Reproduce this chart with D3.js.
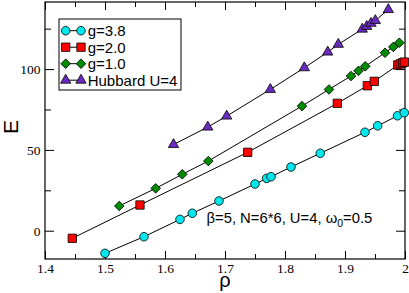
<!DOCTYPE html>
<meta charset="utf-8">
<script src="https://d3js.org/d3.v7.min.js"></script>
<style>
  body { margin: 0; background: #fff; }
  .tick text { font-family: "Liberation Serif", "Times New Roman", serif; font-size: 13.5px; fill: #000; }
</style>
<body>
<div id="chart"></div>
<script>
// data: density rho vs energy E
var rhoG38 = [1.500, 1.565, 1.625, 1.6455, 1.690, 1.750, 1.7695, 1.7767, 1.810, 1.8588, 1.9333, 1.9545, 1.9875, 1.9988];
var eG38   = [-14.0, -3.7, 7.0, 10.8, 18.4, 28.9, 32.4, 33.4, 39.4, 47.9, 60.9, 64.9, 71.1, 73.0];

var rhoG20 = [1.4455, 1.5583, 1.7378, 1.8872, 1.9372, 1.9488, 1.988, 1.992, 1.996, 1.999];
var eG20   = [-4.7, 15.9, 48.5, 78.8, 89.7, 92.4, 102.5, 103.2, 103.9, 104.3];

var rhoG10 = [1.5238, 1.5845, 1.6288, 1.6722, 1.8283, 1.8733, 1.910, 1.9225, 1.9337, 1.9667, 1.9805, 1.9905];
var eG10   = [15.3, 26.2, 34.9, 43.1, 77.1, 87.4, 95.7, 98.9, 101.7, 110.1, 113.7, 116.3];

var rhoHub = [1.6142, 1.6712, 1.7028, 1.7755, 1.8322, 1.8712, 1.8888, 1.9288, 1.9362, 1.9433, 1.9505, 1.9722];
var eHub   = [53.3, 64.1, 70.9, 87.4, 100.8, 110.5, 115.3, 124.7, 126.4, 128.3, 130.0, 136.8];

var seriesNames = ["g=3.8", "g=2.0", "g=1.0", "Hubbard U=4"];
var xTicks = [1.4, 1.5, 1.6, 1.7, 1.8, 1.9, 2.0];
var xTickLabels = ["1.4", "1.5", "1.6", "1.7", "1.8", "1.9", "2"];
var xMinor = [1.45, 1.55, 1.65, 1.75, 1.85, 1.95];
var yTicks = [0, 50, 100];
var yMinor = [25, 75, 125];

var series = [
  { name: seriesNames[0], rho: rhoG38, e: eG38, color: "#00e8ee", shape: "circle" },
  { name: seriesNames[1], rho: rhoG20, e: eG20, color: "#ff0000", shape: "square" },
  { name: seriesNames[2], rho: rhoG10, e: eG10, color: "#008c00", shape: "diamond" },
  { name: seriesNames[3], rho: rhoHub, e: eHub, color: "#6a2bc0", shape: "triangle" }
];

var margin = {top: 2, right: 4, bottom: 34, left: 45},
    width = 409 - margin.left - margin.right,
    height = 293 - margin.top - margin.bottom;

var svg = d3.select("#chart")
  .append("svg")
    .attr("width", 409)
    .attr("height", 293)
  .append("g")
    .attr("transform", "translate(" + margin.left + "," + margin.top + ")");

var x = d3.scaleLinear().domain([1.4, 2.0]).range([0, width]);
var y = d3.scaleLinear().domain([-17.5, 141.5]).range([height, 0]);

// marker generators
var symbols = {
  circle: d3.symbol().type(d3.symbolCircle).size(58),
  square: d3.symbol().type(d3.symbolSquare).size(70),
  diamond: d3.symbol().type(d3.symbolSquare).size(46),
  triangle: d3.symbol().type(d3.symbolTriangle).size(46)
};
function markerTransform(shape, px, py) {
  var t = "translate(" + px + "," + py + ")";
  if (shape === "diamond") t += " rotate(45)";
  return t;
}

// bottom axis with labels, ticks pointing inward
var xAxis = svg.append("g")
  .attr("transform", "translate(0," + height + ")")
  .call(d3.axisBottom(x).tickValues(xTicks).tickSize(-8)
    .tickFormat(function(d, i) { return xTickLabels[i]; }));
xAxis.selectAll("text").attr("y", 13.5).attr("dy", 0);
svg.append("g")
  .attr("transform", "translate(0," + height + ")")
  .call(d3.axisBottom(x).tickValues(xMinor).tickSize(-5).tickFormat(""));

// top axis
svg.append("g")
  .call(d3.axisTop(x).tickValues(xTicks).tickSize(-8).tickFormat(""));
svg.append("g")
  .call(d3.axisTop(x).tickValues(xMinor).tickSize(-5).tickFormat(""));

// left axis
var yAxis = svg.append("g")
  .call(d3.axisLeft(y).tickValues(yTicks).tickSize(-9).tickFormat(d3.format("d")));
yAxis.selectAll("text").attr("x", -4.5).attr("dy", "0.33em");
svg.append("g")
  .call(d3.axisLeft(y).tickValues(yMinor).tickSize(-6).tickFormat(""));

// right axis
svg.append("g")
  .attr("transform", "translate(" + width + ",0)")
  .call(d3.axisRight(y).tickValues(yTicks).tickSize(-9).tickFormat(""));
svg.append("g")
  .attr("transform", "translate(" + width + ",0)")
  .call(d3.axisRight(y).tickValues(yMinor).tickSize(-6).tickFormat(""));

svg.selectAll(".domain").remove();
svg.selectAll(".tick line").attr("stroke", "#000").attr("stroke-width", 1);

// frame
svg.append("rect")
  .attr("width", width)
  .attr("height", height)
  .attr("fill", "none")
  .attr("stroke", "#000")
  .attr("stroke-width", 1.2);

// series lines and markers
var line = d3.line()
  .x(function(d) { return x(d[0]); })
  .y(function(d) { return y(d[1]); });

series.forEach(function(s) {
  var pts = s.rho.map(function(r, i) { return [r, s.e[i]]; });
  svg.append("path")
    .datum(pts)
    .attr("fill", "none")
    .attr("stroke", "#000")
    .attr("stroke-width", 1)
    .attr("d", line);
  svg.append("g").selectAll("path")
    .data(pts)
    .enter().append("path")
      .attr("d", symbols[s.shape])
      .attr("transform", function(d) { return markerTransform(s.shape, x(d[0]), y(d[1])); })
      .attr("fill", s.color)
      .attr("stroke", "#000")
      .attr("stroke-width", 0.8);
});

// legend
var legend = svg.append("g").attr("transform", "translate(14,17)");
legend.append("rect")
  .attr("width", 122)
  .attr("height", 71)
  .attr("fill", "#fff")
  .attr("stroke", "#000")
  .attr("stroke-width", 1);
series.forEach(function(s, i) {
  var ly = 11.7 + i * 16.5;
  legend.append("line")
    .attr("x1", 6.7).attr("x2", 22)
    .attr("y1", ly).attr("y2", ly)
    .attr("stroke", "#000");
  [6.7, 22].forEach(function(lx) {
    legend.append("path")
      .attr("d", symbols[s.shape])
      .attr("transform", markerTransform(s.shape, lx, ly))
      .attr("fill", s.color)
      .attr("stroke", "#000")
      .attr("stroke-width", 0.8);
  });
  legend.append("text")
    .attr("x", 28.7)
    .attr("y", ly + 5.5)
    .style("font-family", "'Liberation Sans', Arial, sans-serif")
    .style("font-size", "15px")
    .text(s.name);
});

// annotation
var note = svg.append("text")
  .attr("x", 161.5)
  .attr("y", 221.3)
  .style("font-family", "'Liberation Sans', Arial, sans-serif")
  .style("font-size", "14.8px");
note.append("tspan").text("\u03b2=5, N=6*6, U=4, \u03c9");
note.append("tspan").attr("dy", 4).style("font-size", "10.5px").text("0");
note.append("tspan").attr("dy", -4).text("=0.5");

// axis titles
svg.append("text")
  .attr("x", width / 2)
  .attr("y", 285)
  .attr("text-anchor", "middle")
  .style("font-family", "'Liberation Sans', Arial, sans-serif")
  .style("font-size", "20px")
  .text("\u03c1");

svg.append("text")
  .attr("transform", "translate(" + (17.5 - margin.left) + "," + (127 - margin.top) + ") rotate(-90)")
  .attr("text-anchor", "middle")
  .style("font-family", "'Liberation Sans', Arial, sans-serif")
  .style("font-size", "21px")
  .text("E");
</script>
</body>
